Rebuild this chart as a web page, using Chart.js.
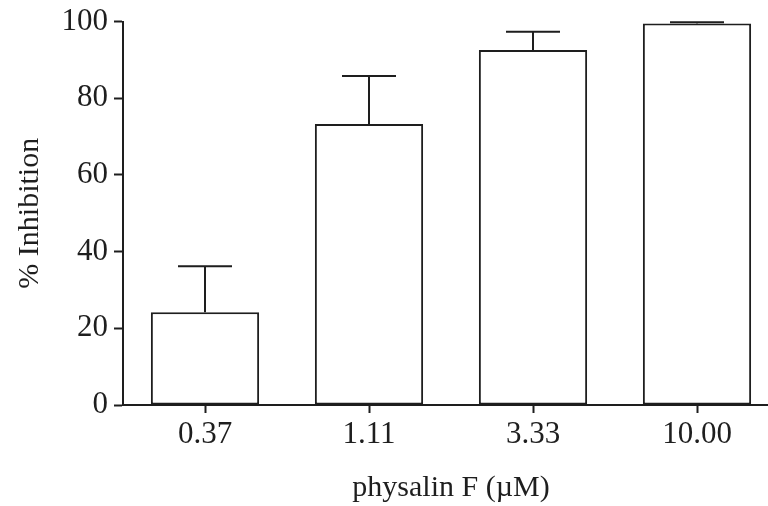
<!DOCTYPE html>
<html>
<head>
<meta charset="utf-8">
<title>physalin F inhibition</title>
<script src="https://cdn.jsdelivr.net/npm/chart.js@4.4.1/dist/chart.umd.min.js"></script>
<style>
  html, body { margin: 0; padding: 0; background: #fff; overflow: hidden; }
  #wrap { width: 790px; height: 506px; }
</style>
</head>
<body>
<div id="wrap"><canvas id="chart" width="790" height="506"></canvas></div>
<script>
// concentrations and mean % inhibition with upper error (SEM)
const doses = ['0.37', '1.11', '3.33', '10.00'];
const inhibition = [24.2, 73.3, 92.6, 99.5];
const sem = [12.0, 12.5, 4.7, 0.3];
const yTicks = [0, 20, 40, 60, 80, 100];

const ink = '#1e1e1e';
const serif = "'Liberation Serif', 'Times New Roman', serif";

// draws the upward error bar on top of each bar
const errorBars = {
    id: 'errorBars',
    afterDatasetsDraw(chart) {
        const ctx = chart.ctx;
        const y = chart.scales.y;
        const meta = chart.getDatasetMeta(0);
        ctx.save();
        ctx.strokeStyle = ink;
        ctx.lineWidth = 2;
        meta.data.forEach((bar, i) => {
            const top = y.getPixelForValue(inhibition[i] + sem[i]);
            ctx.beginPath();
            ctx.moveTo(bar.x, bar.y);
            ctx.lineTo(bar.x, top);
            ctx.moveTo(bar.x - 27, top);
            ctx.lineTo(bar.x + 27, top);
            ctx.stroke();
        });
        ctx.restore();
    }
};

new Chart(document.getElementById('chart'), {
    type: 'bar',
    data: {
        labels: doses,
        datasets: [{
            data: inhibition,
            backgroundColor: '#ffffff',
            borderColor: ink,
            borderWidth: 2,
            borderSkipped: false,
            categoryPercentage: 1,
            barPercentage: 0.66
        }]
    },
    options: {
        responsive: false,
        animation: false,
        devicePixelRatio: 1,
        layout: { padding: { top: 21, right: 11, left: 0, bottom: 0 } },
        plugins: {
            legend: { display: false },
            tooltip: { enabled: false }
        },
        scales: {
            x: {
                afterFit(scale) { scale.height = 101; },
                border: { display: true, color: ink, width: 2 },
                grid: {
                    display: true,
                    offset: false,
                    drawOnChartArea: false,
                    drawTicks: true,
                    tickLength: 8,
                    tickWidth: 2,
                    tickColor: ink
                },
                ticks: {
                    color: ink,
                    padding: 3,
                    maxRotation: 0,
                    font: { family: serif, size: 31 }
                },
                title: {
                    display: true,
                    text: 'physalin F (\u00b5M)',
                    color: ink,
                    padding: { top: 0, bottom: 0 },
                    font: { family: serif, size: 30 }
                }
            },
            y: {
                min: 0,
                max: 100,
                afterFit(scale) { scale.width = 123; },
                afterBuildTicks(scale) { scale.ticks = yTicks.map(v => ({ value: v })); },
                border: { display: true, color: ink, width: 2 },
                grid: {
                    display: true,
                    drawOnChartArea: false,
                    drawTicks: true,
                    tickLength: 9,
                    tickWidth: 2,
                    tickColor: ink
                },
                ticks: {
                    color: ink,
                    padding: 6,
                    font: { family: serif, size: 31, lineHeight: 1 }
                },
                title: {
                    display: true,
                    text: '% Inhibition',
                    color: ink,
                    padding: { top: 12, bottom: 0 },
                    font: { family: serif, size: 30 }
                }
            }
        }
    },
    plugins: [errorBars]
});
</script>
</body>
</html>
